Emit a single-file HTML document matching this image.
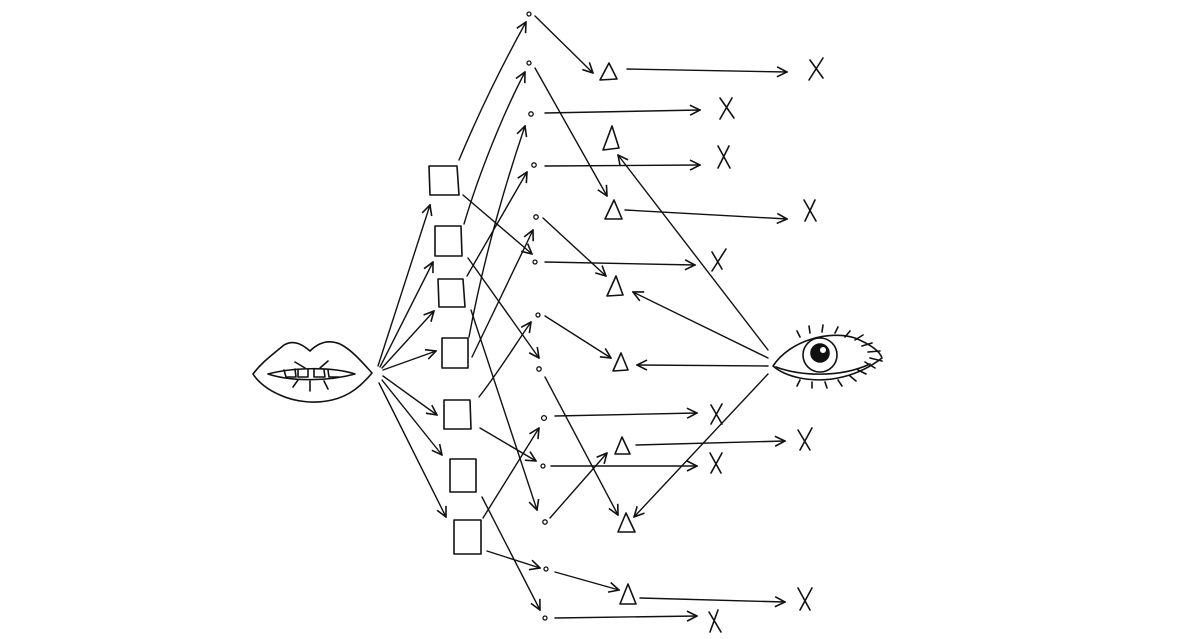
<!DOCTYPE html>
<html><head><meta charset="utf-8"><style>html,body{margin:0;padding:0;background:#fff;width:1200px;height:639px;overflow:hidden}</style></head>
<body>
<svg width="1200" height="639" viewBox="0 0 1200 639" xmlns="http://www.w3.org/2000/svg">
<defs>
<marker id="a" viewBox="0 0 12 12" refX="11" refY="6" markerWidth="12" markerHeight="12" markerUnits="userSpaceOnUse" orient="auto">
<path d="M1,1 L11,6 L1,11" fill="none" stroke="#111" stroke-width="1.6"/>
</marker>
</defs>
<g fill="none" stroke="#111" stroke-width="1.6" stroke-linecap="round" stroke-linejoin="round">
<!-- lips -->
<path d="M253,374 C262,362 272,355 284,345 C294,339 303,345 310,351 C318,343 328,339 340,344 C352,350 362,362 372,373 C362,385 350,396 332,400 C315,404 295,402 280,395 C268,390 258,382 253,374 Z"/>
<path d="M268,374 C290,368 330,366 355,374 C330,381 292,382 268,374 Z"/>
<path d="M284,370 l2,7 h10 l-1,-8 M298,369 v8 h10 v-8 M314,369 v8 h11 l-1,-7 M328,370 l1,7 h10"/>
<path d="M295,362 l10,6 M328,361 l-8,7 M293,387 l5,-7 M310,391 l0,-10 M328,389 l-4,-8"/>
<!-- eye -->
<path d="M773,366 C790,340 830,330 855,338 C872,345 880,352 882,358 C860,375 830,384 800,378 C790,376 780,372 773,366 Z"/>
<path d="M776,367 C800,376 840,378 870,364"/>
<circle cx="820" cy="355" r="17"/><circle cx="820" cy="353" r="9" fill="#111"/><circle cx="823" cy="350" r="3" fill="#fff" stroke="none"/>
<path d="M800,337 l-3,-6 M810,333 l-1,-7 M822,332 l1,-7 M835,333 l3,-6 M845,337 l5,-6 M855,340 l8,-5 M862,346 l10,-3 M868,352 l12,-1 M870,358 l12,3 M865,362 l10,6 M800,380 l-3,6 M812,382 l0,6 M825,382 l2,6 M838,380 l4,6 M850,376 l6,5 M858,370 l8,4"/>
<!-- squares -->
<path d="M429,166 h28 l2,29 h-29 z"/>
<path d="M435,226 h26 l1,30 h-27 z"/>
<path d="M438,279 h25 l2,28 h-26 z"/>
<path d="M442,338 h26 v30 h-26 z"/>
<path d="M444,400 h26 l1,29 h-27 z"/>
<path d="M450,459 h26 v33 h-26 z"/>
<path d="M454,520 h27 v34 h-27 z"/>
<!-- dots -->
<g stroke-width="1.3">
<circle cx="529" cy="14" r="2"/><circle cx="529" cy="63" r="2"/><circle cx="531" cy="114" r="2.2"/><circle cx="534" cy="165" r="2.2"/><circle cx="536" cy="217" r="2.2"/><circle cx="535" cy="262" r="2"/><circle cx="538" cy="315" r="2"/><circle cx="539" cy="369" r="2.2"/><circle cx="544" cy="418" r="2.4"/><circle cx="543" cy="466" r="2"/><circle cx="545" cy="522" r="2.2"/><circle cx="546" cy="569" r="2"/><circle cx="545" cy="618" r="2"/>
</g>
<!-- triangles -->
<path d="M600,80 l9,-17 l8,16 z"/>
<path d="M603,150 l9,-24 l7,22 z"/>
<path d="M605,219 l9,-19 l8,19 z"/>
<path d="M607,296 l9,-20 l7,19 z"/>
<path d="M613,371 l8,-18 l7,17 z"/>
<path d="M615,454 l7,-17 l8,17 z"/>
<path d="M618,532 l8,-19 l9,19 z"/>
<path d="M620,604 l8,-20 l8,20 z"/>
<!-- X marks -->
<path d="M810,60 l13,18 M823,58 l-14,22"/>
<path d="M720,98 l14,20 M732,98 l-12,21"/>
<path d="M718,146 l12,22 M729,146 l-11,22"/>
<path d="M804,200 l12,21 M815,200 l-10,21"/>
<path d="M712,252 l10,17 M726,249 l-14,22"/>
<path d="M711,405 l11,19 M722,404 l-11,20"/>
<path d="M798,430 l12,20 M812,428 l-12,22"/>
<path d="M710,453 l11,20 M722,453 l-11,20"/>
<path d="M798,588 l12,22 M812,588 l-12,22"/>
<path d="M709,612 l12,20 M718,610 l-8,22"/>
</g>
<g fill="none" stroke="#111" stroke-width="1.4" stroke-linecap="round" marker-end="url(#a)">
<!-- lips to squares -->
<path d="M378,366 L430,205"/>
<path d="M380,367 L433,262"/>
<path d="M382,368 L434,311"/>
<path d="M383,370 L436,351"/>
<path d="M383,376 L437,415"/>
<path d="M382,380 L442,455"/>
<path d="M379,383 L446,517"/>
<!-- squares to dots -->
<path d="M459,160 C480,110 505,60 526,22"/>
<path d="M464,224 C480,170 505,110 525,72"/>
<path d="M463,195 L532,254"/>
<path d="M467,276 L527,172"/>
<path d="M469,337 C485,250 510,170 525,126"/>
<path d="M479,397 C500,370 515,345 531,322"/>
<path d="M468,258 L539,358"/>
<path d="M471,310 L537,510"/>
<path d="M480,428 L536,461"/>
<path d="M483,518 L539,428"/>
<path d="M482,497 L540,610"/>
<path d="M487,551 L540,568"/>
<path d="M472,357 L533,230"/>
<!-- dots to triangles -->
<path d="M535,16 L593,73"/>
<path d="M535,68 L607,196"/>
<path d="M543,218 L606,276"/>
<path d="M545,316 L611,358"/>
<path d="M545,377 L618,515"/>
<path d="M550,518 L607,453"/>
<path d="M555,572 L619,590"/>
<!-- dots to X -->
<path d="M545,113 L700,110"/>
<path d="M545,166 L700,165"/>
<path d="M545,262 L695,265"/>
<path d="M555,416 L697,413"/>
<path d="M551,466 L697,466"/>
<path d="M555,618 L697,616"/>
<!-- triangles to X -->
<path d="M627,69 L787,72"/>
<path d="M625,210 L787,219"/>
<path d="M636,445 L785,441"/>
<path d="M640,598 L785,602"/>
<!-- eye to triangles -->
<path d="M768,350 L618,155"/>
<path d="M768,358 L633,292"/>
<path d="M768,366 L637,365"/>
<path d="M768,374 L634,517"/>
</g>
</svg>
</body></html>
